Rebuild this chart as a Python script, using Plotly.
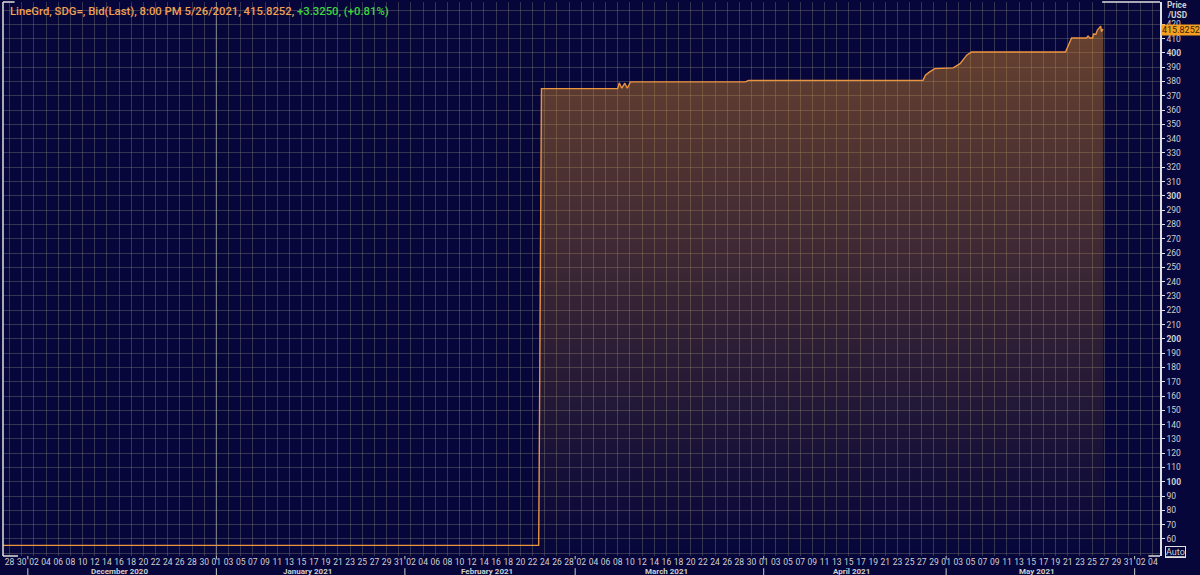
import plotly.graph_objects as go

# SDG= bid, Nov 2020 - May 2021
dates = [
    "2020-11-26 00:00", "2021-01-29 12:00", "2021-01-30 06:00", "2021-01-31 12:00",
    "2021-02-01 00:00", "2021-02-23 00:00", "2021-02-23 02:00", "2021-02-23 05:00",
    "2021-02-23 08:00", "2021-02-23 11:00", "2021-03-08 00:00", "2021-03-08 06:00",
    "2021-03-08 16:00", "2021-03-09 04:00", "2021-03-09 14:00", "2021-03-10 02:00",
    "2021-03-29 00:00", "2021-03-29 12:00", "2021-04-27 05:00", "2021-04-27 14:00",
    "2021-04-28 07:00", "2021-04-29 03:00", "2021-05-02 04:00", "2021-05-03 07:00",
    "2021-05-04 09:00", "2021-05-05 04:00", "2021-05-20 15:00", "2021-05-21 15:00",
    "2021-05-24 02:00", "2021-05-24 08:00", "2021-05-24 15:00", "2021-05-25 02:00",
    "2021-05-25 05:00", "2021-05-25 15:00", "2021-05-25 21:00", "2021-05-26 10:00",
    "2021-05-26 13:00", "2021-05-26 16:00", "2021-05-26 20:00",
]
bids = [
    55.55, 55.55, 55.15, 55.15,
    55.55, 55.55, 108.0, 215.0,
    322.0, 375.0, 375.0, 379.0,
    375.3, 378.8, 375.3, 379.7,
    379.7, 380.8, 380.8, 384.4,
    386.7, 389.0, 389.5, 392.5,
    398.4, 400.6, 400.6, 410.4,
    410.4, 411.8, 410.4, 410.4,
    413.2, 413.0, 416.0, 418.7,
    414.8, 416.6, 415.8252,
]

last_price = "415.8252"
change_txt = "+3.3250, (+0.81%)"

price_ticks = list(range(60, 430, 10))
price_labels = [f"<b>{v}</b>" if v % 100 == 0 else str(v) for v in price_ticks]

months = ["December 2020", "January 2021", "February 2021", "March 2021", "April 2021", "May 2021"]
month_mid = ["2020-12-16", "2021-01-16", "2021-02-14 12:00", "2021-03-16", "2021-04-15 12:00", "2021-05-16"]
month_starts = ["2020-12-01", "2021-01-01", "2021-02-01", "2021-03-01", "2021-04-01", "2021-05-01", "2021-06-01"]

bg = "#06063a"
grid = "rgba(120,120,115,0.42)"
label_col = "#cfcfcf"
orange = "#eb9440"

fig = go.Figure()
fig.add_trace(go.Scatter(
    x=dates, y=bids, mode="lines",
    line=dict(color=orange, width=1.4),
    fill="tozeroy",
    fillgradient=dict(
        type="vertical",
        start=48, stop=416,
        colorscale=[[0, "rgba(215,135,35,0.0)"], [1, "rgba(215,135,35,0.46)"]],
    ),
    hoverinfo="x+y",
    showlegend=False,
))

shapes = []
# month separators under the day labels
for d in month_starts:
    shapes.append(dict(type="line", xref="x", yref="paper", x0=d, x1=d, y0=-0.022, y1=-0.045,
                       line=dict(color=label_col, width=1)))
    shapes.append(dict(type="line", xref="x", yref="paper", x0=d, x1=d, y0=0, y1=-0.006,
                       line=dict(color=label_col, width=1)))
# year boundary
shapes.append(dict(type="line", xref="x", yref="paper", x0="2021-01-01", x1="2021-01-01", y0=0, y1=1,
                   line=dict(color="rgba(160,160,160,0.65)", width=1.2)))
# frame corners
shapes.append(dict(type="line", xref="paper", yref="paper", x0=0, x1=0, y0=0, y1=1,
                   line=dict(color="#e0e0e0", width=1.5)))
shapes.append(dict(type="line", xref="paper", yref="paper", x0=0, x1=0.013, y0=0, y1=0,
                   line=dict(color="#e0e0e0", width=1.5)))
shapes.append(dict(type="line", xref="paper", yref="paper", x0=0, x1=0.01, y0=1, y1=1,
                   line=dict(color="#e0e0e0", width=1.5)))
shapes.append(dict(type="line", xref="paper", yref="paper", x0=0.95, x1=1, y0=1, y1=1,
                   line=dict(color="#e0e0e0", width=1.5)))
shapes.append(dict(type="line", xref="paper", yref="paper", x0=0.99, x1=1, y0=0, y1=0,
                   line=dict(color="#e0e0e0", width=1.5)))

annotations = [
    dict(xref="paper", yref="paper", x=0, y=1, xanchor="left", yanchor="top", xshift=5, yshift=-1,
         showarrow=False, align="left",
         text=f"LineGrd, SDG=, Bid(Last), 8:00 PM 5/26/2021, {last_price}, "
              f"<span style='color:#3cd83c'>{change_txt}</span>",
         font=dict(family="Roboto", size=11.3, weight=500, color="#f0a050")),
    dict(xref="paper", yref="paper", x=1, y=1, xanchor="left", yanchor="middle", xshift=5, yshift=-3,
         showarrow=False, align="left", text="<b>Price</b>",
         font=dict(family="Roboto", size=8.3, color=label_col)),
    dict(xref="paper", yref="paper", x=1, y=1, xanchor="left", yanchor="middle", xshift=5, yshift=-12.5,
         showarrow=False, align="left", text="<b>/USD</b>",
         font=dict(family="Roboto", size=8.3, color=label_col)),
    dict(xref="paper", yref="y", x=1, y=415.8252, xanchor="left", yanchor="middle", xshift=1,
         showarrow=False, text=last_price, bgcolor="#f5a020", borderpad=0,
         font=dict(family="Roboto", size=9, color="#3a2000")),
    dict(xref="paper", yref="paper", x=1, y=0, xanchor="left", yanchor="middle", xshift=5, yshift=4,
         showarrow=False, text="<u>Auto</u>", bordercolor="#e0e0e0", borderwidth=1, borderpad=0,
         font=dict(family="Roboto", size=9, color=label_col)),
]
for name, mid in zip(months, month_mid):
    annotations.append(dict(xref="x", yref="paper", x=mid, y=0, xanchor="center", yanchor="middle",
                            yshift=-15, showarrow=False, text=f"<b>{name}</b>",
                            font=dict(family="Roboto", size=8, color=label_col)))

fig.update_layout(
    width=1200, height=575,
    margin=dict(l=3, r=40, t=2, b=19),
    paper_bgcolor=bg, plot_bgcolor=bg,
    shapes=shapes, annotations=annotations,
    xaxis=dict(
        type="date",
        range=["2020-11-26 22:00", "2021-06-05 04:00"],
        tick0="2020-11-28", dtick=2 * 86400000,
        tickformat="%d",
        showgrid=True, gridcolor=grid, gridwidth=1,
        zeroline=False, showline=False, ticks="",
        tickfont=dict(family="Roboto", size=8.5, color=label_col),
        ticklabelstandoff=-1,
        fixedrange=True,
    ),
    yaxis=dict(
        side="right",
        range=[48.1, 435.6],
        tickmode="array", tickvals=price_ticks, ticktext=price_labels,
        showgrid=True, gridcolor=grid, gridwidth=1,
        minor=dict(tickvals=[50, 430], showgrid=True, gridcolor=grid, ticks=""),
        zeroline=False,
        showline=True, linecolor="#e0e0e0", linewidth=1.5,
        ticks="outside", ticklen=3, tickcolor="#e0e0e0",
        tickfont=dict(family="Roboto", size=8.5, color=label_col),
        fixedrange=True,
    ),
)

# the page body has a default margin; remove it so the chart fills the window
fig.write_html(
    "out.html",
    config={"displayModeBar": False},
    post_script="document.body.style.margin='0';document.body.style.background='#06063a';",
)
